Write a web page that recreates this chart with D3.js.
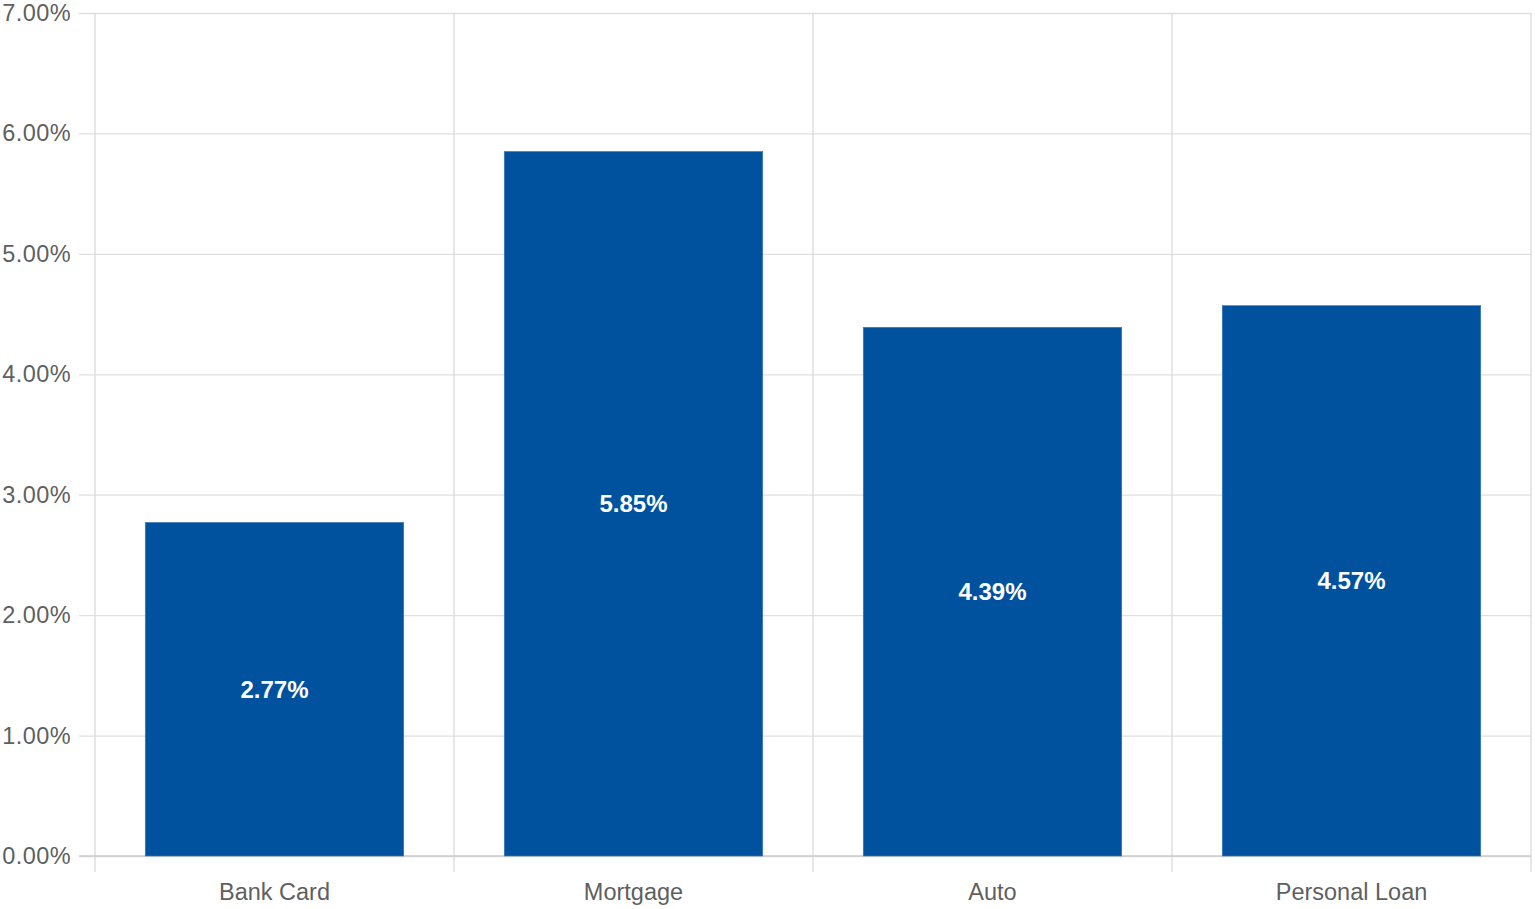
<!DOCTYPE html>
<html>
<head>
<meta charset="utf-8">
<script src="https://cdn.jsdelivr.net/npm/d3@7"></script>
<style>
  body { margin: 0; background: #fff; }
  text { font-family: "Liberation Sans", Arial, sans-serif; }
</style>
</head>
<body>
<script>
// chart data
var categories = ["Bank Card", "Mortgage", "Auto", "Personal Loan"];
var rates = [2.77, 5.85, 4.39, 4.57];
var yTicks = [0, 1, 2, 3, 4, 5, 6, 7];

var width = 1535, height = 909;
var margin = {top: 13, right: 4, bottom: 53, left: 95};
var innerW = width - margin.left - margin.right,
    innerH = height - margin.top - margin.bottom;

var svg = d3.select("body").append("svg")
    .attr("width", width)
    .attr("height", height);

var g = svg.append("g")
    .attr("transform", "translate(" + margin.left + "," + margin.top + ")");

var x = d3.scaleBand()
    .domain(categories)
    .range([0, innerW])
    .paddingInner(0.28)
    .paddingOuter(0.14);

var y = d3.scaleLinear()
    .domain([0, 7])
    .range([innerH, 0]);

var step = x.step();

// horizontal grid + y labels
var yAxis = d3.axisLeft(y)
    .tickValues(yTicks)
    .tickSize(-innerW - 16)
    .tickPadding(8)
    .tickFormat(function(d){ return d.toFixed(2) + "%"; });

g.append("g")
    .attr("class", "y-axis")
    .attr("transform", "translate(-16,0)")
    .call(yAxis)
    .call(function(a){
        a.select(".domain").remove();
        a.selectAll("line").attr("stroke", "#e0e0e0").attr("stroke-width", 1.3);
        a.selectAll("text")
            .attr("fill", "#5f5f5f")
            .style("font-size", "23.5px")
            .style("letter-spacing", "0.4px");
    });

// vertical grid lines between categories
var edges = d3.range(categories.length + 1).map(function(i){ return i * step; });
g.selectAll(".vgrid")
    .data(edges)
    .enter().append("line")
    .attr("class", "vgrid")
    .attr("x1", function(d){ return d; })
    .attr("x2", function(d){ return d; })
    .attr("y1", 0)
    .attr("y2", innerH + 16)
    .attr("stroke", "#dadada")
    .attr("stroke-width", 1.3);

// baseline
g.append("line")
    .attr("x1", -16).attr("x2", innerW)
    .attr("y1", y(0)).attr("y2", y(0))
    .attr("stroke", "#cccccc")
    .attr("stroke-width", 1.5);

// bars
g.selectAll(".bar")
    .data(rates)
    .enter().append("rect")
    .attr("class", "bar")
    .attr("x", function(d, i){ return x(categories[i]); })
    .attr("width", x.bandwidth())
    .attr("y", function(d){ return y(d); })
    .attr("height", function(d){ return y(0) - y(d); })
    .attr("fill", "#00529f")
    .attr("stroke", "#3b78b8")
    .attr("stroke-width", 0.6);

// value labels
g.selectAll(".val")
    .data(rates)
    .enter().append("text")
    .attr("class", "val")
    .attr("x", function(d, i){ return x(categories[i]) + x.bandwidth() / 2; })
    .attr("y", function(d){ return (y(d) + y(0)) / 2; })
    .attr("dy", "0.35em")
    .attr("text-anchor", "middle")
    .attr("fill", "#fff")
    .style("font-size", "24px")
    .style("font-weight", "bold")
    .text(function(d){ return d.toFixed(2) + "%"; });

// category labels
g.selectAll(".cat")
    .data(categories)
    .enter().append("text")
    .attr("class", "cat")
    .attr("x", function(d){ return x(d) + x.bandwidth() / 2; })
    .attr("y", innerH + 44)
    .attr("text-anchor", "middle")
    .attr("fill", "#5f5f5f")
    .style("font-size", "23.5px")
    .text(function(d){ return d; });
</script>
</body>
</html>
